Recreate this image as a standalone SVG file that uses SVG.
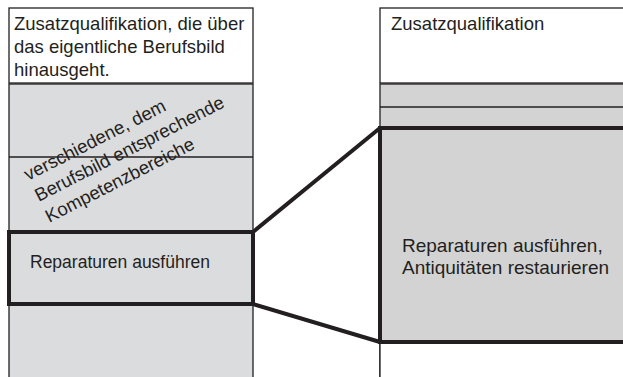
<svg xmlns="http://www.w3.org/2000/svg" width="623" height="377" viewBox="0 0 623 377">
<style>
.t{font-family:"Liberation Sans",Arial,sans-serif;font-size:18.5px;fill:#231f20}
.thin{stroke:#231f20;stroke-width:1.3;fill:none}
.thick{stroke:#231f20;stroke-width:4;fill:none;stroke-linejoin:miter}
</style>
<rect width="623" height="377" fill="#ffffff"/>
<g id="left-column">
<rect x="9" y="84" width="244" height="300" class="thin" style="fill:#dbdcde"/>
<line x1="9" y1="157" x2="253" y2="157" class="thin"/>
</g>
<g id="left-header">
<rect x="9" y="8" width="244" height="75" class="thin" style="fill:#fff"/>
<text class="t" x="14" y="30">Zusatzqualifikation, die über</text>
<text class="t" x="14" y="53">das eigentliche Berufsbild</text>
<text class="t" x="14" y="76">hinausgeht.</text>
</g>
<g id="left-competences">
<text class="t" transform="translate(28 181) rotate(-27)">
<tspan x="0" y="0">verschiedene, dem</tspan>
<tspan x="0" y="23.5">Berufsbild entsprechende</tspan>
<tspan x="0" y="47">Kompetenzbereiche</tspan>
</text>
</g>
<g id="left-repair">
<rect x="9" y="232" width="244" height="72" class="thick"/>
<text class="t" x="30" y="268" style="font-size:17.5px">Reparaturen ausführen</text>
</g>
<g id="right-column">
<rect x="380" y="84" width="260" height="300" class="thin" style="fill:#d3d3d3"/>
<line x1="380" y1="107" x2="640" y2="107" class="thin"/>
<rect x="380" y="342" width="260" height="50" style="fill:#fff;stroke:#231f20;stroke-width:1.3"/>
</g>
<g id="right-header">
<rect x="380" y="8" width="260" height="75" class="thin" style="fill:#fff"/>
<text class="t" x="391" y="30">Zusatzqualifikation</text>
</g>
<g id="right-repair">
<rect x="380" y="128" width="260" height="214" class="thick" style="fill:#d3d3d3"/>
<text class="t" x="402" y="252" style="font-size:19px">Reparaturen ausführen,</text>
<text class="t" x="402" y="274" style="font-size:19px">Antiquitäten restaurieren</text>
</g>
<g id="connectors">
<line x1="253" y1="232" x2="380" y2="128" class="thick"/>
<line x1="253" y1="304" x2="380" y2="342" class="thick"/>
</g>
</svg>
